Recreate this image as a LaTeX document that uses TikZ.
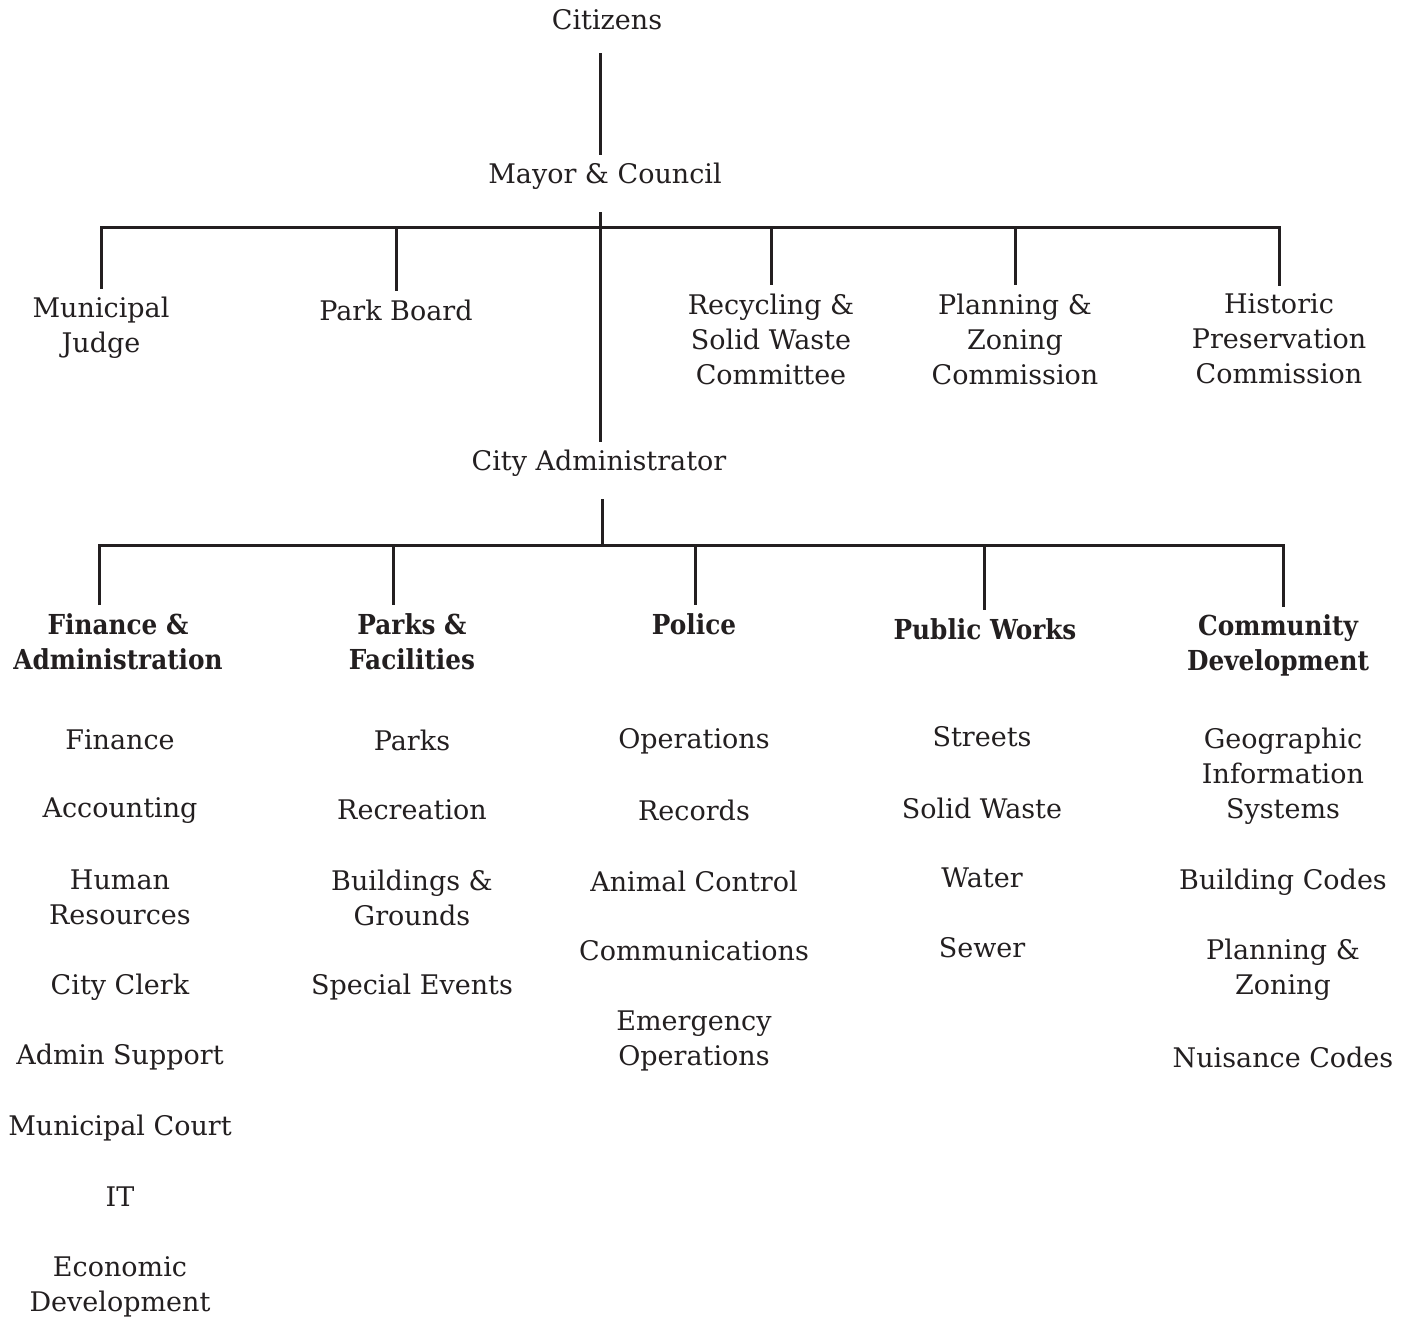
\documentclass[tikz,border=0pt]{standalone}
\usepackage{fontspec}
\setmainfont{DejaVu Serif}
\newfontfamily\hdfont[FakeStretch=0.9]{DejaVu Serif}
\definecolor{ink}{HTML}{231F20}
\begin{document}
\begin{tikzpicture}[x=1pt,y=-1pt,
  lbl/.style={font=\fontsize{27}{35}\selectfont, text=ink, align=center, inner xsep=0pt, inner ysep=8pt},
  hd/.style={lbl, font=\hdfont\bfseries\fontsize{27.5}{35}\selectfont},
  wire/.style={draw=ink, line width=3pt}]
\useasboundingbox[fill=white] (0,0) rectangle (1411,1320);

% top levels
\node[lbl] (cit) at (607,20) {Citizens};
\node[lbl] (mayor) at (605,176) {Mayor \& Council};
\node[lbl] (judge) at (101,327.5) {Municipal\\Judge};
\node[lbl] (park) at (396,310) {Park Board};
\node[lbl] (recyc) at (771,339) {Recycling \&\\Solid Waste\\Committee};
\node[lbl] (plan) at (1015,339) {Planning \&\\Zoning\\Commission};
\node[lbl] (hist) at (1279,339) {Historic\\Preservation\\Commission};
\node[lbl] (admin) at (599,463) {City Administrator};

% department headers
\node[hd] (fin) at (118,641.5) {Finance \&\\Administration};
\node[hd] (pf) at (412,641.5) {Parks \&\\Facilities};
\node[hd] (pol) at (694,624) {Police};
\node[hd] (pw) at (985,629) {Public Works};
\node[hd] (cd) at (1278,645.5) {Community\\Development};

% Finance column
\node[lbl] (f1) at (120,740) {Finance};
\node[lbl] (f2) at (120,811) {Accounting};
\node[lbl] (f3) at (120,897.5) {Human\\Resources};
\node[lbl] (f4) at (120,987) {City Clerk};
\node[lbl] (f5) at (120,1057) {Admin Support};
\node[lbl] (f6) at (120,1128) {Municipal Court};
\node[lbl] (f7) at (120,1197) {IT};
\node[lbl] (f8) at (120,1286.5) {Economic\\Development};

% Parks column
\node[lbl] (p1) at (412,740) {Parks};
\node[lbl] (p2) at (412,810) {Recreation};
\node[lbl] (p3) at (412,897.5) {Buildings \&\\Grounds};
\node[lbl] (p4) at (412,987) {Special Events};

% Police column
\node[lbl] (o1) at (694,741) {Operations};
\node[lbl] (o2) at (694,810) {Records};
\node[lbl] (o3) at (694,881) {Animal Control};
\node[lbl] (o4) at (694,951) {Communications};
\node[lbl] (o5) at (694,1040.5) {Emergency\\Operations};

% Public Works column
\node[lbl] (w1) at (982,737) {Streets};
\node[lbl] (w2) at (982,808) {Solid Waste};
\node[lbl] (w3) at (982,878) {Water};
\node[lbl] (w4) at (982,948) {Sewer};

% Community Development column
\node[lbl] (c1) at (1283,776) {Geographic\\Information\\Systems};
\node[lbl] (c2) at (1283,882) {Building Codes};
\node[lbl] (c3) at (1283,969.5) {Planning \&\\Zoning};
\node[lbl] (c4) at (1283,1057) {Nuisance Codes};

% connectors
\coordinate (sp1) at (600,0);
\coordinate (sp2) at (602,0);
\coordinate (bus1) at (0,227);
\coordinate (d1) at (99,545);
\coordinate (d2) at (393,545);
\coordinate (d3) at (695,545);
\coordinate (d4) at (984,545);
\coordinate (d5) at (1283,545);

\draw[wire, shorten <=15pt] (cit.south -| sp1) -- (mayor.north -| sp1);
\draw[wire, shorten <=15pt] (mayor.south -| sp1) -- (admin.north -| sp1);
\draw[wire] (judge.north) -- (judge.north |- bus1) -- (hist.north |- bus1) -- (hist.north);
\foreach \n in {park,recyc,plan} \draw[wire] (\n.north |- bus1) -- (\n.north);

\draw[wire, shorten <=15pt] (admin.south -| sp2) -- (d1 -| sp2);
\draw[wire] (d1 |- fin.north) -- (d1) -- (d5) -- (d5 |- cd.north);
\draw[wire] (d2) -- (d2 |- pf.north);
\draw[wire] (d3) -- (d3 |- pol.north);
\draw[wire] (d4) -- (d4 |- pw.north);
\end{tikzpicture}
\end{document}
